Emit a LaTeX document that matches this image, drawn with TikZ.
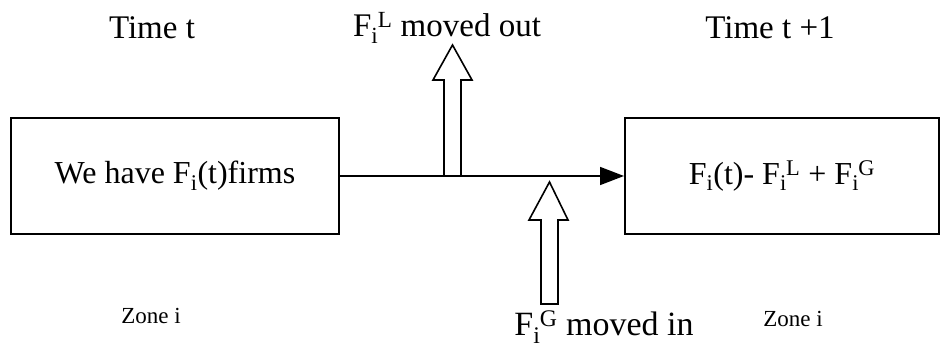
\documentclass[tikz,border=0pt]{standalone}
\usepackage{fontspec}
\setmainfont{Liberation Serif}
\usetikzlibrary{arrows.meta}
\newcommand{\Fsub}[1]{F\textsubscript{i}\kern-0.5pt\textsuperscript{#1}}
\tikzset{
  bigtext/.style={font=\fontsize{33}{38}\selectfont, inner sep=0pt},
  smalltext/.style={font=\fontsize{23}{27}\selectfont, inner sep=0pt},
  zonebox/.style={draw, line width=2pt, minimum height=116pt, inner sep=0pt, font=\fontsize{32}{37}\selectfont},
  blockarrow/.style={draw, line width=1.6pt, fill=white, line join=miter},
  flow/.style={line width=1.6pt, -{Triangle[length=24pt,width=18pt]}}
}
\begin{document}
\begin{tikzpicture}[x=1pt,y=1pt]
\useasboundingbox (0,0) rectangle (941,352);
% boxes
\node[zonebox, minimum width=328pt] (left) at (175,176) {We have F\textsubscript{i}(t)firms};
\node[zonebox, minimum width=314pt] (right) at (782,176) {F\textsubscript{i}(t)- \Fsub{L} + \Fsub{G}};
% main flow
\draw[flow] (left.east) -- (right.west);
% labels
\node[bigtext] (timet) at (152,324) {Time t};
\node[bigtext] (timet1) at (770,324) {Time t +1};
\node[bigtext] (outlbl) at (447,324) {\Fsub{L} moved out};
\node[bigtext, font=\fontsize{34}{39}\selectfont, anchor=base] (inlbl) at (604,16) {\Fsub{G} moved in};
\node[smalltext] (zoneL) at (151,36) {Zone i};
\node[smalltext] (zoneR) at (793,33) {Zone i};
% block arrows
\draw[blockarrow] (444,176) -- (444,272) -- (433,272) -- (452.5,307) -- (472,272) -- (461,272) -- (461,176) -- cycle;
\draw[blockarrow] (541,48) -- (541,132) -- (529,132) -- (549.5,170) -- (568,132) -- (558,132) -- (558,48) -- cycle;
\end{tikzpicture}
\end{document}
